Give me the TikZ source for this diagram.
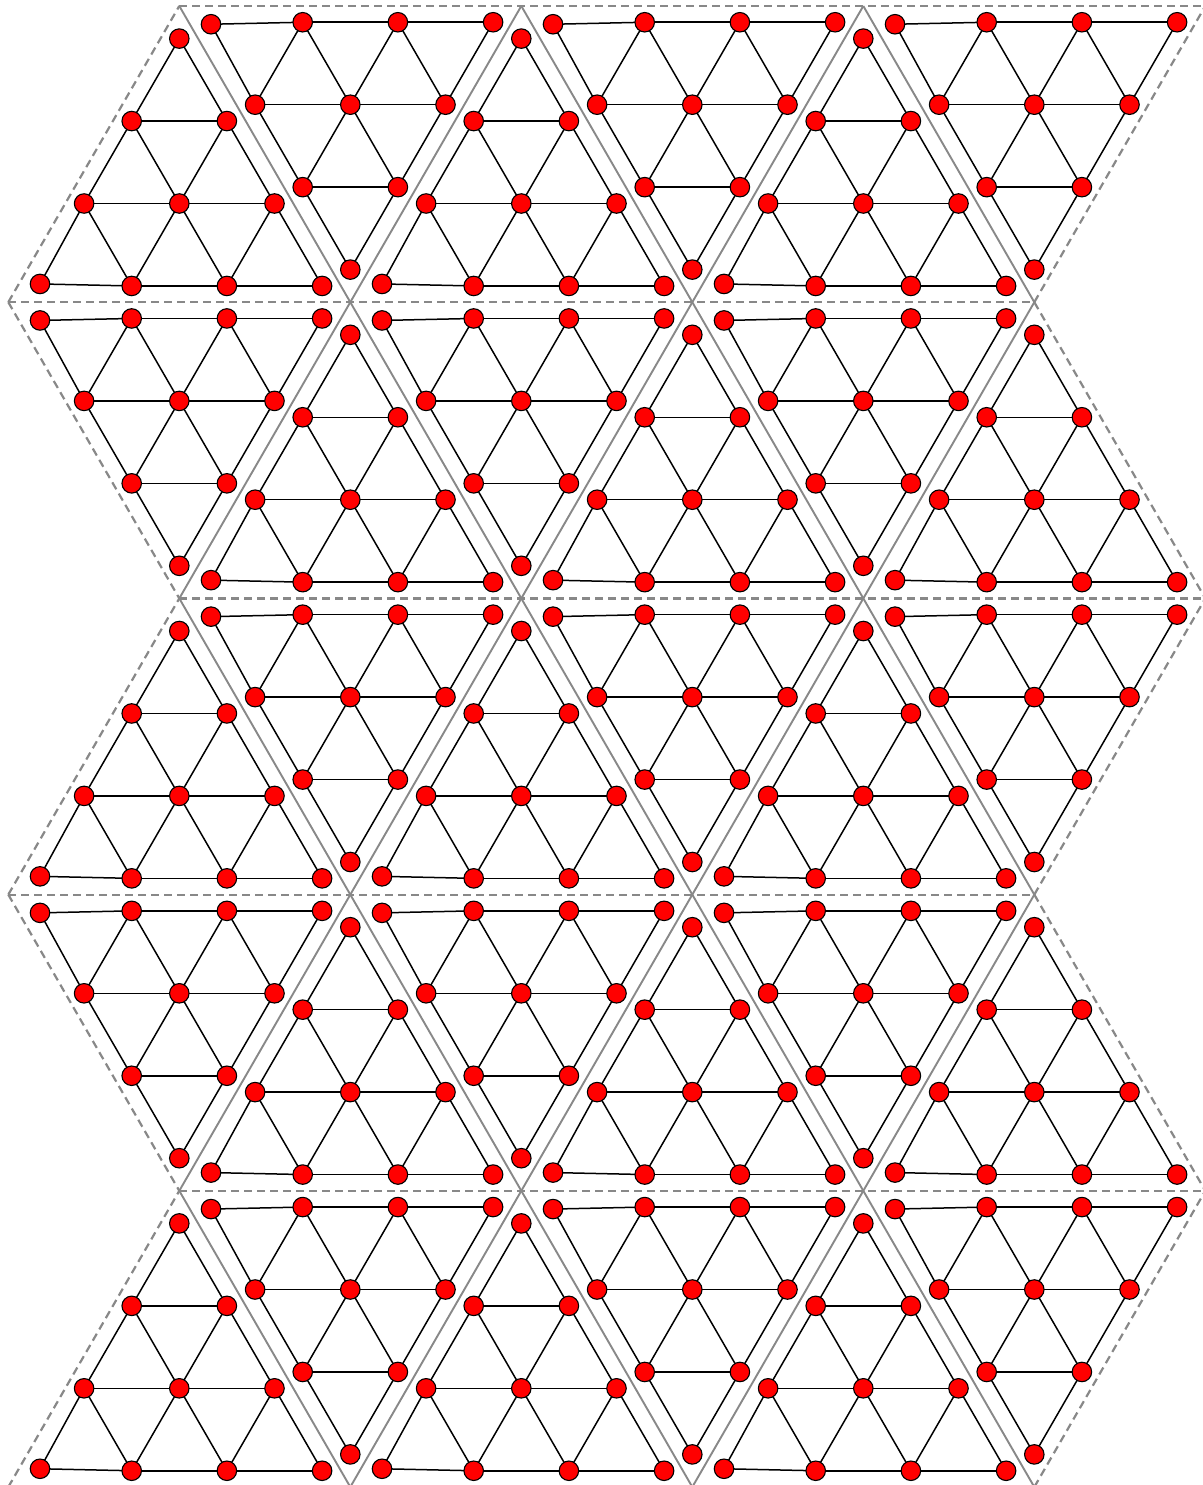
\documentclass[tikz,border=0pt]{standalone}
\definecolor{tilegray}{RGB}{136,136,136}
\pgfdeclarelayer{bg}
\pgfsetlayers{bg,main}
\begin{document}
\begin{tikzpicture}[x=1pt,y=-1pt,
  vtx/.style={circle,draw=black,fill=red,line width=1.1pt,minimum size=19.5pt,inner sep=0pt,outer sep=0pt},
  gedge/.style={draw=black,line width=1.5pt},
  tileouter/.style={draw=tilegray,line width=2.2pt,dash pattern=on 8pt off 5pt},
  tileinner/.style={draw=tilegray,line width=1.9pt}]
\useasboundingbox (0,0) rectangle (1202,1485);
% vertices of the 30 triangular grid graphs
\foreach \r in {0,...,4}{
  \foreach \t in {0,...,5}{
    \pgfmathsetmacro\cx{8.3+(\t+1)*171}
    \pgfmathtruncatemacro\tp{mod(\r+\t,2)}
    \ifnum\tp=0\relax
      \pgfmathsetmacro\ya{6+\r*296.2+32.6}\def\sg{1}
    \else
      \pgfmathsetmacro\ya{6+(\r+1)*296.2-32.6}\def\sg{-1}
    \fi
    \foreach \i in {0,...,3}{
      \foreach \j in {0,...,\i}{
        \pgfmathtruncatemacro\cn{(\i==3)&&(\j==0)}
        \ifnum\cn=1\relax
          \node[vtx] (n-\r-\t-\i-\j) at ({\cx+95.2*(\j-\i/2)+3.5},{\ya+\sg*82.45*\i-2*\sg}) {};
        \else
          \node[vtx] (n-\r-\t-\i-\j) at ({\cx+95.2*(\j-\i/2)},{\ya+\sg*82.45*\i}) {};
        \fi
      }
    }
  }
}
\begin{pgfonlayer}{bg}
% horizontal tile borders
\foreach \k in {0,...,5}{
  \pgfmathsetmacro\yy{6+\k*296.2}
  \ifodd\k
    \draw[tileouter] (8.3,\yy) -- (1034.3,\yy);
  \else
    \draw[tileouter] (179.3,\yy) -- (1205.3,\yy);
  \fi
}
% slanted tile borders
\foreach \r in {0,...,4}{
  \pgfmathsetmacro\yt{6+\r*296.2}
  \pgfmathsetmacro\yb{\yt+296.2}
  \foreach \j in {0,...,6}{
    \pgfmathsetmacro\xl{8.3+\j*171}
    \pgfmathsetmacro\xr{\xl+171}
    \pgfmathtruncatemacro\tp{mod(\r+\j,2)}
    \pgfmathtruncatemacro\ot{(\j==0)||(\j==6)}
    \ifnum\ot=1\relax
      \tikzset{curtile/.style={tileouter}}
    \else
      \tikzset{curtile/.style={tileinner}}
    \fi
    \ifnum\tp=0\relax
      \draw[curtile] (\xl,\yb) -- (\xr,\yt);
    \else
      \draw[curtile] (\xl,\yt) -- (\xr,\yb);
    \fi
  }
}
% graph edges
\foreach \r in {0,...,4}{
  \foreach \t in {0,...,5}{
    \foreach \i in {0,...,3}{
      \foreach \j in {0,...,\i}{
        \pgfmathtruncatemacro\ii{\i+1}
        \pgfmathtruncatemacro\jj{\j+1}
        \ifnum\j<\i\relax
          \draw[gedge] (n-\r-\t-\i-\j) -- (n-\r-\t-\i-\jj);
        \fi
        \ifnum\i<3\relax
          \draw[gedge] (n-\r-\t-\i-\j) -- (n-\r-\t-\ii-\j);
          \draw[gedge] (n-\r-\t-\i-\j) -- (n-\r-\t-\ii-\jj);
        \fi
      }
    }
  }
}
\end{pgfonlayer}
\end{tikzpicture}
\end{document}
